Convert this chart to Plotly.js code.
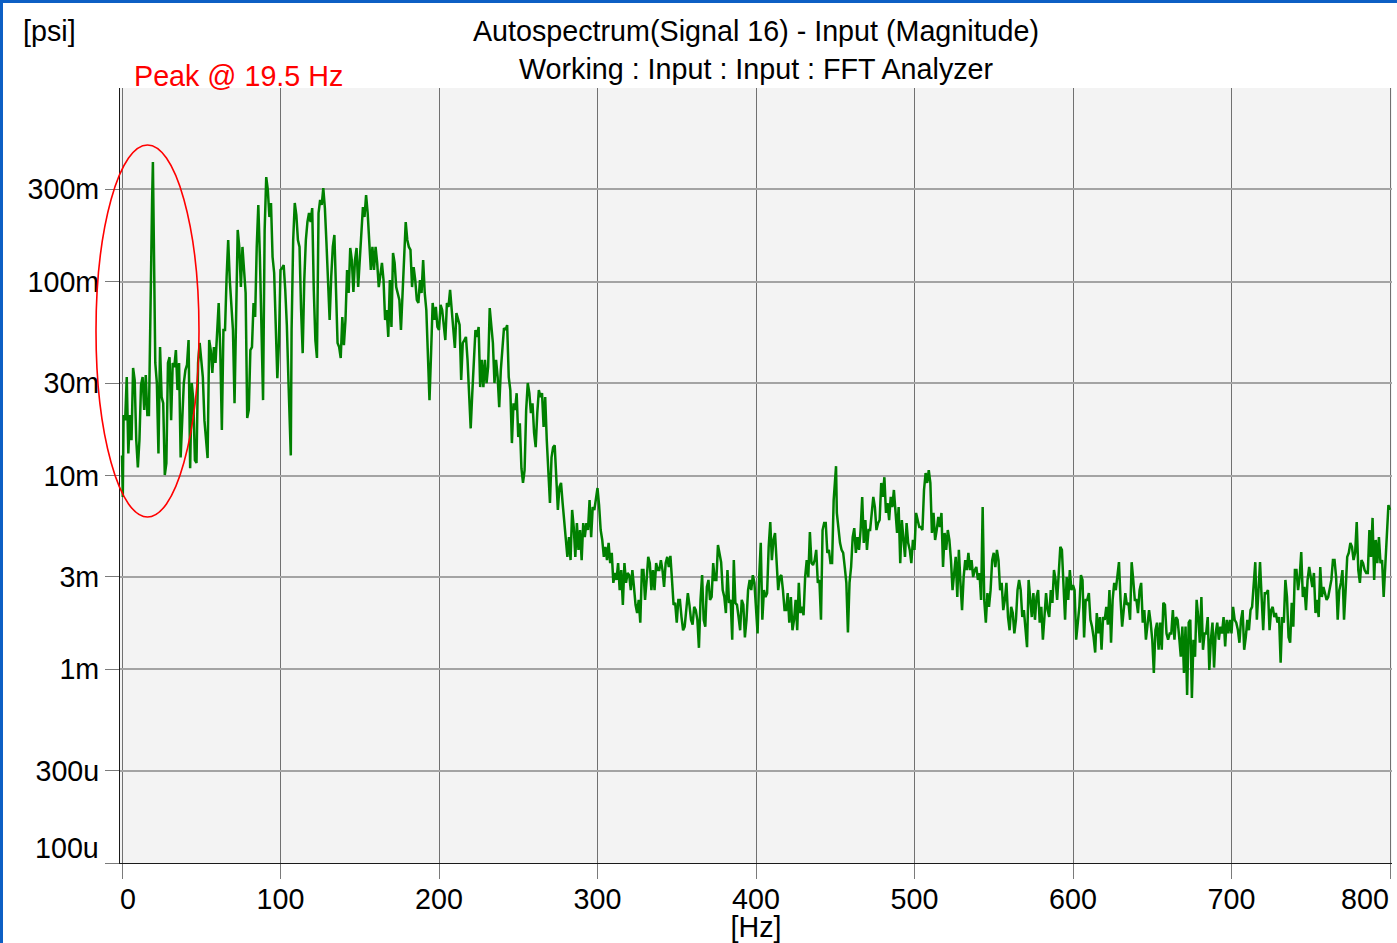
<!DOCTYPE html>
<html><head><meta charset="utf-8">
<script src="https://cdn.plot.ly/plotly-3.0.1.min.js"></script>
<style>
html,body{margin:0;padding:0;background:#fff;}
#wrap{position:relative;width:1397px;height:943px;overflow:hidden;}
#chart{width:1397px;height:943px;}
.bl{position:absolute;left:0;top:0;width:3px;height:943px;background:#0d5fc4;}
.bt{position:absolute;left:0;top:0;width:1397px;height:3px;background:#0d5fc4;}
</style></head>
<body><div id="wrap"><div id="chart"></div><div class="bl"></div><div class="bt"></div></div>
<script>
// ---- Data: autospectrum magnitude [psi] vs frequency [Hz] ----
const f1 = [0,0.5,1,2,3,4,5,6,7,8,9,10,11,12,13,14,15,16,17,18,19,19.5,20,21,22,23,24,25,26,27,28,29,30,31,32,33,34,35,36,37,38,39,40,41,42,43,44,45,46,47,48,49,50,51,52,53,54,55,56,57,58,59,60,61,62,63,64,65,66,67,68,69,70,71,72,73,74,75,76,77,78,79,80,81,82,83,84,85,86,87,88,89,90,91,92,93,94,95,96,97,98,99];
const v1 = [0.0127,0.00775,0.0205,0.0193,0.0322,0.0130,0.0205,0.0152,0.0359,0.0311,0.0152,0.0110,0.0152,0.0293,0.0322,0.0218,0.0330,0.0205,0.0205,0.0985,0.264,0.415,0.185,0.0381,0.0300,0.0130,0.0460,0.0254,0.0236,0.01005,0.01158,0.0381,0.0408,0.0193,0.0381,0.0363,0.0444,0.0276,0.0381,0.0124,0.0193,0.0300,0.0350,0.0372,0.0500,0.0109,0.0300,0.0245,0.0120,0.0116,0.0381,0.0483,0.0395,0.0322,0.0193,0.0152,0.0123,0.0500,0.0444,0.0338,0.0460,0.0381,0.0584,0.0777,0.0444,0.0172,0.0564,0.0564,0.1058,0.1643,0.1021,0.0777,0.0564,0.0236,0.0834,0.185,0.1512,0.0939,0.1512,0.115,0.0875,0.0198,0.0218,0.0444,0.0460,0.0777,0.0658,0.1512,0.249,0.1342,0.0460,0.0245,0.185,0.347,0.2976,0.2158,0.255,0.1342,0.111,0.0500,0.0318,0.0483];

const f2 = [100,101,102,103,104,105,106,106.5,107,108,109,110,111,112,113,114,115,116,117,118,119,120,121,122,123,124,125,126,127,128,129,130,131,132,133,134,135,136,137,138,139,140,141,142,143,144,145,146,147,148,149,150,151,152,153,154,155,156,157,158,159,160,161,162,163,164,165,166,167,168,169,170,171,172,173,174,175,176,177,178,179,180,181,182,183,184,185,186,187,188,189,190,191,192,193,194,195,196,197,198,199];
const v2 = [0.115,0.1177,0.122,0.0907,0.0598,0.0311,0.0193,0.0127,0.0564,0.1643,0.255,0.221,0.1643,0.1512,0.0715,0.0428,0.1021,0.1643,0.2034,0.2264,0.2034,0.240,0.0907,0.0500,0.0404,0.2264,0.2642,0.249,0.3046,0.240,0.1585,0.1021,0.0635,0.1058,0.1512,0.1743,0.0907,0.0483,0.0460,0.0404,0.0658,0.0471,0.0635,0.115,0.0875,0.1494,0.1295,0.0886,0.1295,0.1494,0.0939,0.1295,0.2034,0.2431,0.2158,0.2804,0.2264,0.1459,0.115,0.1512,0.115,0.1512,0.125,0.0939,0.1058,0.125,0.1021,0.0635,0.0715,0.0519,0.1021,0.0584,0.1408,0.125,0.0939,0.0875,0.0805,0.0564,0.0907,0.125,0.2034,0.1643,0.1512,0.1459,0.0939,0.1191,0.1021,0.0805,0.0777,0.1021,0.0875,0.1295,0.0875,0.0715,0.0395,0.0245,0.0428,0.0777,0.0635,0.0741,0.0584];

const f3 = [200,201,202,203,204,205,206,207,208,209,210,211,212,213,214,215,216,217,218,219,220,221,222,223,224,225,226,227,228,229,230,231,232,233,234,235,236,237,238,239,240,241,242,243,244,245,246,247,248,249,250,251,252,253,254,255,256,257,258,259,260,261,262,263,264,265,266,267,268,269,270,271,272,273,274,275,276,277,278,279,280,281,282,283,284,285,286,287,288,289,290,291,292,293,294,295,296,297,298,299,300,301];
const v3 = [0.0564,0.0759,0.0715,0.0598,0.0500,0.0777,0.0741,0.0907,0.0690,0.0564,0.0455,0.0690,0.0635,0.0598,0.0311,0.0483,0.0500,0.0519,0.0395,0.0254,0.0175,0.0266,0.0381,0.0564,0.0519,0.0584,0.0286,0.0395,0.0286,0.0395,0.0300,0.0363,0.0732,0.0564,0.0483,0.0300,0.0395,0.0322,0.0225,0.0350,0.0444,0.0577,0.0564,0.0598,0.0322,0.0276,0.0147,0.0236,0.0218,0.0266,0.0158,0.0186,0.0109,0.00915,0.01067,0.0218,0.0300,0.0266,0.0210,0.0236,0.0166,0.0140,0.0210,0.0276,0.0254,0.0266,0.0178,0.0254,0.0152,0.01067,0.00721,0.0124,0.0140,0.0143,0.0103,0.00664,0.00872,0.00915,0.00721,0.00568,0.00481,0.0038,0.00481,0.00366,0.00664,0.00542,0.0038,0.00568,0.00413,0.00523,0.00366,0.00568,0.00481,0.00568,0.00523,0.00747,0.00481,0.00687,0.00664,0.00747,0.00862,0.00704];

const f4 = [302,303,304,305,306,307,308,309,310,311,312,313,314,315,316,317,318,319,320,321,322,323,324,325,326,327,328,329,330,331,332,333,334,335,336,337,338,339,340,341,342,343,344,345,346,347,348,349,350,351,352,353,354,355,356,357,358,359,360,361,362,363,364,365,366,367,368,369,370,371,372,373,374,375,376,377,378,379,380,381,382,383,384,385,386,387,388,389,390,391,392,393,394,395,396,397,398,399,400];
const v4 = [0.00523,0.00465,0.0038,0.00428,0.00366,0.00449,0.00353,0.00399,0.00279,0.00314,0.00289,0.00353,0.00256,0.00325,0.00215,0.00353,0.00279,0.00314,0.00306,0.00256,0.00325,0.00266,0.00215,0.00195,0.00228,0.00174,0.00325,0.00325,0.00228,0.00289,0.0038,0.00353,0.00256,0.00325,0.00256,0.00353,0.00325,0.00325,0.00366,0.00325,0.00266,0.00353,0.0038,0.00337,0.00385,0.00289,0.00215,0.0022,0.00174,0.00228,0.00228,0.00186,0.00159,0.00166,0.0021,0.00247,0.00215,0.0018,0.0017,0.0021,0.00202,0.0018,0.00129,0.00228,0.00306,0.0018,0.00166,0.00266,0.00289,0.00228,0.00236,0.00353,0.00289,0.00289,0.00438,0.00399,0.00357,0.00256,0.00236,0.00195,0.00325,0.0022,0.00228,0.00142,0.00366,0.0022,0.00215,0.00186,0.00159,0.00228,0.00215,0.00146,0.0018,0.00256,0.00289,0.00256,0.00306,0.00279,0.00202];

const f5 = [401,402,403,404,405,406,407,408,409,410,411,412,413,414,415,416,417,418,419,420,421,422,423,424,425,426,427,428,429,430,431,432,433,434,435,436,437,438,439,440,441,442,443,444,445,446,447,448,449,450.5,451,452,453,454,455,456,457,458,459,460,461,462,463,464,465,466,467,468,469,470,471,472,473,474,475,476,477,478,479,480,481,482,483,484,485,486,487,488,489,490,491,492,493,494,495,496,497,498,499,500];
const v5 = [0.00153,0.00299,0.00449,0.0018,0.00256,0.00236,0.00247,0.00428,0.00575,0.00366,0.00465,0.00505,0.00366,0.00256,0.00299,0.00306,0.00256,0.00202,0.00202,0.00247,0.00174,0.00236,0.00159,0.0018,0.00228,0.00159,0.00279,0.00195,0.0021,0.0019,0.00299,0.00366,0.00299,0.00511,0.00353,0.00345,0.00366,0.00413,0.00279,0.00289,0.0018,0.00523,0.00568,0.00568,0.00399,0.00413,0.00353,0.00353,0.00747,0.01117,0.00641,0.00542,0.00449,0.00413,0.00399,0.00337,0.00279,0.00155,0.00279,0.00337,0.00481,0.00535,0.00399,0.00481,0.00413,0.00523,0.00775,0.00449,0.00589,0.00413,0.00523,0.00523,0.00664,0.00775,0.00687,0.00523,0.00568,0.00589,0.00915,0.00775,0.0098,0.00641,0.0072,0.00589,0.00775,0.00687,0.00842,0.00611,0.00505,0.00687,0.00353,0.00589,0.00449,0.0038,0.00568,0.00449,0.00413,0.00353,0.00465,0.00413];

const f6 = [501,502,503,504,505,506,507,508,509,510,511,512,513,514,515,516,517,518,519,520,521,522,523,524,525,526,527,528,529,530,531,532,533,534,535,536,537,538,539,540,541,542,543,544,545,546,547,548,549,550,551,552,553,554,555,556,557,558,559,560,561,562,563,564,565,566,567,568,569,570,571,572,573,574,575,576,577,578,579,580,581,582,583,584,585,586,587,588,589,590,591,592,593,594,595,596,597,598,599,600];
const v6 = [0.00641,0.00589,0.00542,0.00542,0.00523,0.00842,0.0103,0.00915,0.01067,0.00915,0.00505,0.00641,0.00465,0.00523,0.00611,0.00542,0.00641,0.00337,0.00505,0.00413,0.00523,0.00465,0.00366,0.00256,0.00314,0.0038,0.00236,0.00413,0.00279,0.00202,0.00299,0.00366,0.00325,0.00399,0.00325,0.00366,0.00299,0.00325,0.00337,0.00289,0.00314,0.00228,0.00687,0.00228,0.00174,0.00247,0.0021,0.00256,0.00366,0.00399,0.00337,0.00413,0.00366,0.00256,0.00279,0.00202,0.00228,0.00279,0.00186,0.00159,0.0021,0.00195,0.00153,0.0018,0.00256,0.00289,0.00256,0.00186,0.00202,0.00159,0.0013,0.00289,0.00228,0.00186,0.00247,0.0018,0.00236,0.00256,0.00174,0.0021,0.00142,0.0018,0.00247,0.00202,0.00186,0.00256,0.0022,0.00325,0.00289,0.00228,0.00299,0.00428,0.00413,0.00279,0.0018,0.00299,0.00228,0.00325,0.00256,0.00272];

const f7 = [601,602,603,604,605,606,607,608,609,610,611,612,613,614,615,616,617,618,619,620,621,622,623,624,625,626,627,628,629,630,631,632,633,634,635,636,637,638,639,640,641,642,643,644,645,646,647,648,649,650,651,652,653,654,655,656,657,658,659,660,661,662,663,664,665,666,667,668,669,670,671,672,673,674,675,676,677,678,679,680,681,682,683,684,685,686,687,688,689,690,691,692,693,694,695,696,697,698,699,700];
const v7 = [0.00256,0.00142,0.0018,0.0021,0.00306,0.00289,0.00146,0.00228,0.00228,0.00247,0.0018,0.00166,0.00146,0.00122,0.00195,0.00153,0.00186,0.00126,0.00186,0.0018,0.0021,0.0017,0.00256,0.00137,0.00228,0.00279,0.00256,0.00299,0.00357,0.00228,0.00166,0.00202,0.00247,0.00215,0.0022,0.0018,0.00357,0.00289,0.00228,0.00228,0.00195,0.00256,0.00279,0.00174,0.00202,0.00142,0.00174,0.00202,0.00174,0.00142,0.000956,0.00159,0.00174,0.00126,0.00174,0.00126,0.0022,0.00215,0.00153,0.00142,0.00153,0.00153,0.00202,0.00142,0.00186,0.0018,0.00146,0.00116,0.00166,0.000956,0.00166,0.000736,0.00174,0.0018,0.00071,0.00142,0.00116,0.00228,0.00186,0.00137,0.00236,0.00126,0.00153,0.00153,0.00186,0.000991,0.00142,0.00174,0.00102,0.00153,0.00174,0.00142,0.00166,0.00153,0.00186,0.00131,0.0018,0.00153,0.0018,0.00153];

const f8 = [701,702,703,704,705,706,707,708,709,710,711,712,713,714,715,716,717,718,719,720,721,722,723,724,725,726,727,728,729,730,731,732,733,734,735,736,737,738,739,740,741,742,743,744,745,746,747,748,749,750,751,752,753,754,755,756,757,758,759,760,761,762,763,764,765,766,767,768,769,770,771,772,773,774,775,776,777,778,779,780,781,782,783,784,785,786,787,788,789,790,791,792,793,794,795,796,797,798,799,800];
const v8 = [0.0021,0.0018,0.00174,0.0016,0.00137,0.0018,0.00202,0.00126,0.00146,0.0018,0.00159,0.00202,0.0021,0.00289,0.00357,0.0018,0.00256,0.00357,0.00236,0.00159,0.00247,0.00247,0.00256,0.00159,0.00202,0.0021,0.00186,0.00195,0.00174,0.00186,0.00108,0.00186,0.00174,0.00289,0.00236,0.00146,0.00137,0.0022,0.00166,0.00325,0.00325,0.00256,0.00299,0.00403,0.00236,0.00266,0.00202,0.00289,0.00337,0.00289,0.00266,0.00314,0.00195,0.00228,0.00186,0.00337,0.00236,0.00266,0.00247,0.00228,0.00236,0.00256,0.00289,0.00366,0.00366,0.00299,0.0018,0.00256,0.00279,0.00325,0.0018,0.00256,0.0038,0.00399,0.00449,0.00428,0.00366,0.00399,0.00575,0.00325,0.00279,0.00366,0.00353,0.00325,0.00314,0.00314,0.00523,0.0038,0.00604,0.00289,0.00465,0.00353,0.00481,0.00353,0.00366,0.00236,0.00325,0.00449,0.00704,0.00664];

// ---- Axis ticks ----
const xTickVals = [0,100,200,300,400,500,600,700,800];
const xTickText = ['','100','200','300','400','500','600','700',''];
const yTickVals = [1e-4,3e-4,1e-3,3e-3,1e-2,3e-2,1e-1,3e-1];
const yTickText = ['','300u','1m','3m','10m','30m','100m','300m'];

const titleLine1 = 'Autospectrum(Signal 16) - Input (Magnitude)';
const titleLine2 = 'Working : Input : Input : FFT Analyzer';
const peakLabel = 'Peak @ 19.5 Hz';

const freq = [].concat(f1,f2,f3,f4,f5,f6,f7,f8);
const mag = [].concat(v1,v2,v3,v4,v5,v6,v7,v8);

const FONT = 'Liberation Sans, Arial, Helvetica, sans-serif';
const FS = 28.7;

const trace = {
  x: freq, y: mag, type: 'scatter', mode: 'lines',
  line: {color: '#008000', width: 2.5},
  hoverinfo: 'skip'
};

const layout = {
  width: 1397, height: 943,
  margin: {l: 120, r: 5, t: 88, b: 80, pad: 0},
  paper_bgcolor: '#ffffff', plot_bgcolor: '#f3f3f3',
  showlegend: false,
  font: {family: FONT, size: FS, color: '#000000'},
  title: {text: titleLine1, font: {family: FONT, size: FS, color: '#000000'},
          x: 0.5, xref: 'paper', xanchor: 'center', y: 1 - 31/943, yref: 'container', yanchor: 'middle'},
  xaxis: {
    range: [-1.26, 801.26], tickmode: 'array', tickvals: xTickVals, ticktext: xTickText,
    ticks: 'outside', ticklen: 15, tickwidth: 1, tickcolor: '#7a7a7a', ticklabelstandoff: -4,
    showgrid: true, gridcolor: '#707070', gridwidth: 1,
    showline: true, linecolor: '#1a1a1a', linewidth: 1, zeroline: false,
    tickfont: {family: FONT, size: FS, color: '#000'},
    title: {text: '[Hz]', font: {family: FONT, size: FS, color: '#000'}, standoff: 0}
  },
  yaxis: {
    type: 'log', range: [-4, 0], tickmode: 'array', tickvals: yTickVals, ticktext: yTickText,
    ticks: 'outside', ticklen: 14, tickwidth: 1, tickcolor: '#7a7a7a',
    showgrid: true, gridcolor: '#a3a3a3', gridwidth: 2,
    showline: true, linecolor: '#1a1a1a', linewidth: 1, zeroline: false,
    tickfont: {family: FONT, size: FS, color: '#000'}
  },
  annotations: [
    {text: titleLine2, xref: 'paper', yref: 'paper', x: 0.5, y: (863-69)/775, xanchor: 'center', yanchor: 'middle', showarrow: false, font: {family: FONT, size: FS, color: '#000'}},
    {text: '[psi]', xref: 'paper', yref: 'paper', x: (21-120)/1272, y: (863-31)/775, xanchor: 'left', yanchor: 'middle', showarrow: false, font: {family: FONT, size: FS, color: '#000'}},
    {text: peakLabel, xref: 'paper', yref: 'paper', x: (132-120)/1272, y: (863-76)/775, xanchor: 'left', yanchor: 'middle', showarrow: false, font: {family: FONT, size: FS, color: '#ff0000'}},
    {text: '100u', xref: 'paper', yref: 'paper', x: (101-120)/1272, y: (863-848)/775, xanchor: 'right', yanchor: 'middle', showarrow: false, font: {family: FONT, size: FS, color: '#000'}},
    {text: '0', xref: 'paper', yref: 'paper', x: (128-120)/1272, y: (863-899)/775, xanchor: 'center', yanchor: 'middle', showarrow: false, font: {family: FONT, size: FS, color: '#000'}},
    {text: '800', xref: 'paper', yref: 'paper', x: (1391-120)/1272, y: (863-899)/775, xanchor: 'right', yanchor: 'middle', showarrow: false, font: {family: FONT, size: FS, color: '#000'}}
  ],
  shapes: [
    {type: 'circle', xref: 'paper', yref: 'paper', x0: (96-120)/1272, x1: (199-120)/1272, y0: (863-517)/775, y1: (863-145)/775,
     line: {color: '#ff0000', width: 1.6}, fillcolor: 'rgba(0,0,0,0)', layer: 'above'}
  ]
};

Plotly.newPlot('chart', [trace], layout, {staticPlot: true, displayModeBar: false});
</script></body></html>
